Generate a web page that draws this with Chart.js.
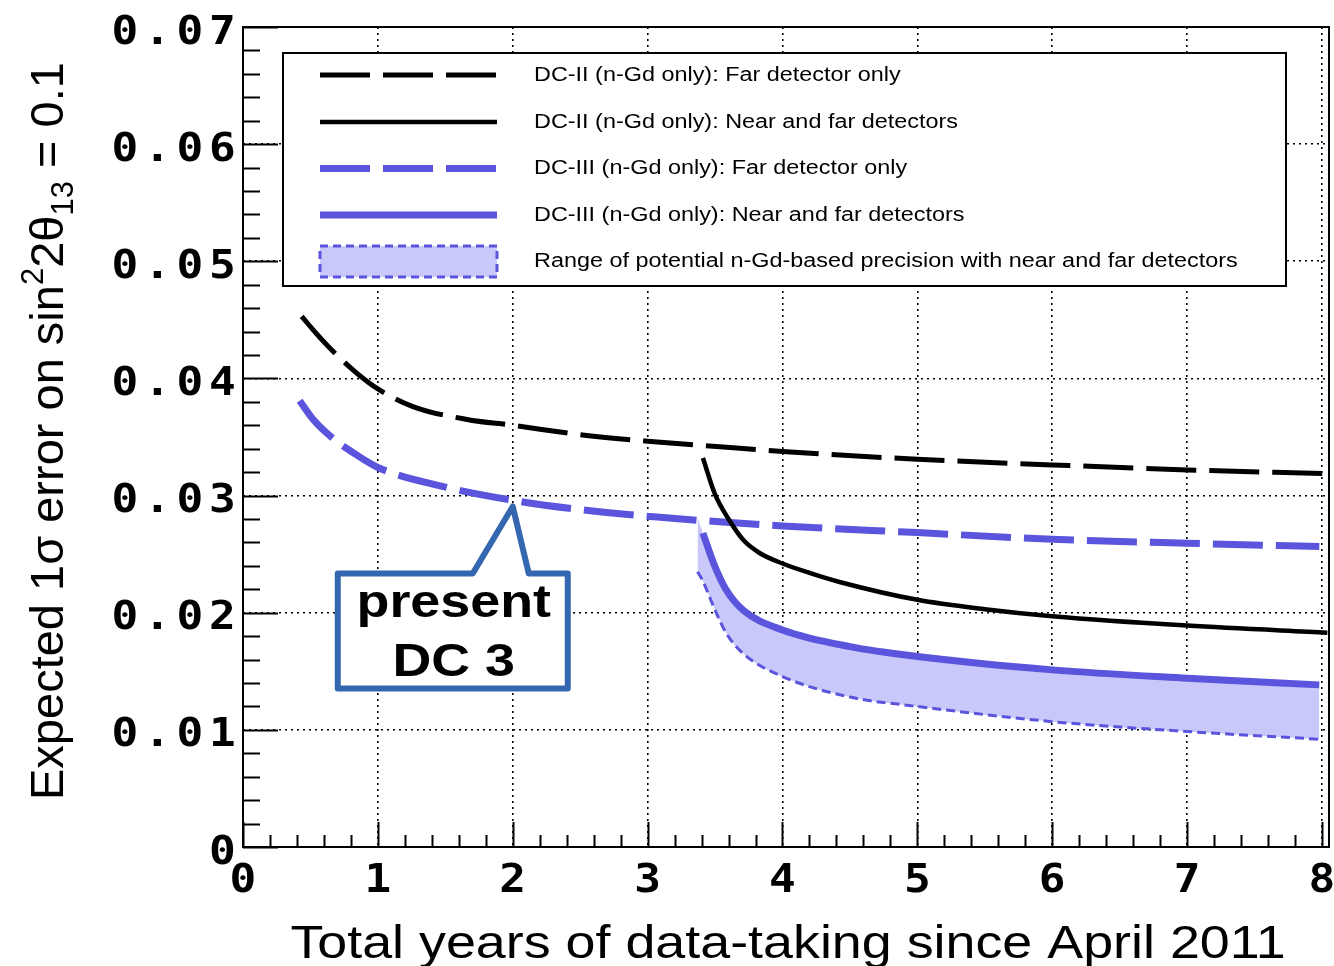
<!DOCTYPE html>
<html>
<head>
<meta charset="utf-8">
<script src="https://cdn.jsdelivr.net/npm/chart.js@4.4.1/dist/chart.umd.min.js"></script>
<style>
  html, body { margin: 0; padding: 0; background: #fff; }
  #wrap { width: 1334px; height: 966px; position: relative; }
</style>
</head>
<body>
<div id="wrap"><canvas id="c" width="1334" height="966"></canvas></div>
<script>
// Expected 1-sigma error on sin^2(2θ13) versus total years of data-taking

// DC-II (n-Gd only), far detector only
const dc2FarYears = [0.435, 0.546, 0.66, 0.843, 1.0, 1.26, 1.66, 2.0, 2.5, 3.0, 3.61, 4.0, 5.0, 6.0, 7.0, 8.04];
const dc2FarError = [0.0453, 0.0438, 0.0424, 0.04045, 0.0391, 0.0376, 0.0365, 0.0360, 0.0352, 0.03464, 0.0341, 0.03376, 0.0331, 0.03262, 0.03219, 0.03188];

// DC-II (n-Gd only), near and far detectors
const dc2NearFarYears = [3.41, 3.50, 3.60, 3.71, 3.83, 4.0, 4.2, 4.43, 5.0, 5.5, 6.0, 7.0, 8.04];
const dc2NearFarError = [0.0332, 0.0301, 0.0280, 0.0262, 0.0251, 0.0242, 0.0234, 0.0226, 0.0211, 0.0203, 0.0197, 0.0189, 0.0183];

// DC-III (n-Gd only), far detector only
const dc3FarYears = [0.42, 0.521, 0.645, 0.818, 1.0, 1.51, 2.0, 2.5, 3.0, 3.61, 4.0, 5.0, 6.0, 7.0, 7.98];
const dc3FarError = [0.0381, 0.0365, 0.0351, 0.03365, 0.0324, 0.0307, 0.0296, 0.0288, 0.02823, 0.0277, 0.02741, 0.02684, 0.02627, 0.02593, 0.02565];

// DC-III near+far curve (upper edge of the range) and the best potential precision (lower edge)
const rangeYears = [3.37, 3.41, 3.49, 3.58, 3.71, 4.0, 4.5, 5.0, 6.0, 7.0, 7.98];
const dc3NearFarError = [0.0281, 0.0268, 0.0242, 0.0220, 0.0202, 0.01853, 0.0171, 0.01626, 0.01512, 0.01441, 0.01384];
const rangeLowerError = [0.0235, 0.0227, 0.0205, 0.0183, 0.0165, 0.01455, 0.0128, 0.0120, 0.0107, 0.00986, 0.0092];

const xTickValues = [0, 1, 2, 3, 4, 5, 6, 7, 8];
const yTickValues = [0, 0.01, 0.02, 0.03, 0.04, 0.05, 0.06, 0.07];

const seriesLabels = [
  'DC-II (n-Gd only): Far detector only',
  'DC-II (n-Gd only): Near and far detectors',
  'DC-III (n-Gd only): Far detector only',
  'DC-III (n-Gd only): Near and far detectors',
  'Range of potential n-Gd-based precision with near and far detectors'
];

const xAxisTitle = 'Total years of data-taking since April 2011';
const calloutText = ['present', 'DC 3'];
const calloutPoint = [2.0, 0.0295];

const BLACK = '#000000';
const BLUE = '#5a55dc';
const RANGE_FILL = '#c8c8fa';
const CALLOUT_BLUE = '#3567b0';
const SANS = '"Liberation Sans", Arial, sans-serif';
const MONO = '"DejaVu Sans Mono", monospace';
const WIDE = 1.17;       // horizontal widening of the plain text
const CELL = 32.5;       // character pitch of the numeric tick labels

const pts = (xs, ys) => xs.map((x, i) => ({ x: x, y: ys[i] }));
const fmtX = v => String(Math.round(v));
const fmtY = v => (Math.abs(v) < 1e-12 ? '0' : v.toFixed(2));

function wideText(ctx, text, x, y, align) {
  ctx.save();
  ctx.translate(x, y);
  ctx.scale(WIDE, 1);
  ctx.textAlign = align;
  ctx.fillText(text, 0, 0);
  ctx.restore();
}

// monospaced label, one glyph per cell; cx0 is the centre of the first cell
function cellText(ctx, text, cx0, baseline) {
  for (let i = 0; i < text.length; i++) {
    ctx.save();
    ctx.translate(cx0 + i * CELL, baseline);
    ctx.scale(1.14, 1);
    ctx.textAlign = 'center';
    ctx.fillText(text[i], 0, 0);
    ctx.restore();
  }
}

// frame, inward tick marks, tick labels, axis titles, legend box and the callout
const decorations = {
  id: 'decorations',
  afterDraw(chart) {
    const ctx = chart.ctx;
    const a = chart.chartArea;
    const xs = chart.scales.x, ys = chart.scales.y;
    ctx.save();

    // frame
    ctx.strokeStyle = BLACK;
    ctx.lineWidth = 2;
    ctx.setLineDash([]);
    ctx.strokeRect(a.left, a.top, a.right - a.left, a.bottom - a.top);

    // tick marks pointing into the plot
    ctx.beginPath();
    for (let i = 0; i <= 40; i++) {
      const px = Math.round(xs.getPixelForValue(i * 0.2)) + 0.5;
      const len = (i % 5 === 0) ? 25 : 12;
      ctx.moveTo(px, a.bottom);
      ctx.lineTo(px, a.bottom - len);
    }
    for (let i = 0; i <= 35; i++) {
      const py = Math.round(ys.getPixelForValue(i * 0.002)) + 0.5;
      const len = (i % 5 === 0) ? 35 : 17;
      ctx.moveTo(a.left, py);
      ctx.lineTo(a.left + len, py);
    }
    ctx.lineWidth = 2;
    ctx.stroke();

    // tick labels at the scale's tick positions
    ctx.fillStyle = BLACK;
    ctx.font = 'bold 39px ' + MONO;
    ctx.textBaseline = 'alphabetic';
    xs.ticks.forEach(t => {
      const s = fmtX(t.value);
      const px = xs.getPixelForValue(t.value);
      cellText(ctx, s, px - (s.length - 1) * CELL / 2, a.bottom + 45);
    });
    ys.ticks.forEach(t => {
      const s = fmtY(t.value);
      const py = ys.getPixelForValue(t.value);
      cellText(ctx, s, a.left - 20.5 - (s.length - 1) * CELL, py + 16.5);
    });

    // x-axis title
    ctx.font = '46px ' + SANS;
    ctx.textBaseline = 'alphabetic';
    wideText(ctx, xAxisTitle, 788, 958, 'center');

    // y-axis title with super- and subscripts
    ctx.save();
    ctx.translate(63, 800);
    ctx.rotate(-Math.PI / 2);
    ctx.textAlign = 'left';
    let tx = 0;
    const seg = (t, font, dy) => {
      ctx.font = font;
      ctx.fillText(t, tx, dy);
      tx += ctx.measureText(t).width;
    };
    const big = '47px ' + SANS, small = '31px ' + SANS;
    seg('Expected 1\u03c3 error on sin', big, 0);
    seg('2', small, -20);
    seg('2\u03b8', big, 0);
    seg('13', small, 10);
    seg(' = 0.1', big, 0);
    ctx.restore();

    // legend
    const L = a.left + 40, T = a.top + 26, R = a.left + 1043, B = a.top + 259;
    ctx.fillStyle = '#ffffff';
    ctx.fillRect(L, T, R - L, B - T);
    ctx.strokeStyle = BLACK;
    ctx.lineWidth = 2;
    ctx.setLineDash([]);
    ctx.strokeRect(L, T, R - L, B - T);

    const sx0 = L + 37, sx1 = L + 214, textX = L + 251;
    const rowY = [T + 22, T + 69, T + 115.5, T + 162, T + 208];
    const sampleStyles = [
      { color: BLACK, width: 5, dash: [50, 13] },
      { color: BLACK, width: 4.5, dash: [] },
      { color: BLUE, width: 7, dash: [50, 13] },
      { color: BLUE, width: 7, dash: [] }
    ];
    sampleStyles.forEach((s, i) => {
      ctx.beginPath();
      ctx.strokeStyle = s.color;
      ctx.lineWidth = s.width;
      ctx.lineCap = 'butt';
      ctx.setLineDash(s.dash);
      ctx.moveTo(sx0, rowY[i]);
      ctx.lineTo(sx1, rowY[i]);
      ctx.stroke();
    });
    ctx.setLineDash([]);
    ctx.fillStyle = RANGE_FILL;
    ctx.fillRect(sx0, rowY[4] - 15, sx1 - sx0, 31);
    ctx.strokeStyle = BLUE;
    ctx.lineWidth = 3;
    ctx.setLineDash([8, 5]);
    ctx.strokeRect(sx0, rowY[4] - 15, sx1 - sx0, 31);
    ctx.setLineDash([]);

    ctx.fillStyle = BLACK;
    ctx.font = '20px ' + SANS;
    ctx.textBaseline = 'middle';
    seriesLabels.forEach((t, i) => wideText(ctx, t, textX, rowY[i], 'left'));

    // callout pointing at the present DC-III precision
    const px = xs.getPixelForValue(calloutPoint[0]);
    const py = ys.getPixelForValue(calloutPoint[1]);
    const tipY = py + 5;
    const bl = px - 175, br = px + 55, bt = py + 72, bb = py + 187;
    ctx.beginPath();
    ctx.moveTo(bl, bt);
    ctx.lineTo(px - 40, bt);
    ctx.lineTo(px, tipY);
    ctx.lineTo(px + 16, bt);
    ctx.lineTo(br, bt);
    ctx.lineTo(br, bb);
    ctx.lineTo(bl, bb);
    ctx.closePath();
    ctx.fillStyle = '#ffffff';
    ctx.fill();
    ctx.lineJoin = 'round';
    ctx.lineWidth = 6;
    ctx.strokeStyle = CALLOUT_BLUE;
    ctx.stroke();

    ctx.fillStyle = BLACK;
    ctx.font = 'bold 46px ' + SANS;
    ctx.textBaseline = 'alphabetic';
    wideText(ctx, calloutText[0], px - 59, py + 116, 'center');
    wideText(ctx, calloutText[1], px - 59, py + 175, 'center');

    ctx.restore();
  }
};

const ctx = document.getElementById('c').getContext('2d');
new Chart(ctx, {
  type: 'line',
  data: {
    datasets: [
      { label: seriesLabels[0], data: pts(dc2FarYears, dc2FarError),
        borderColor: BLACK, borderWidth: 5, borderDash: [50, 13], fill: false },
      { label: seriesLabels[1], data: pts(dc2NearFarYears, dc2NearFarError),
        borderColor: BLACK, borderWidth: 4.5, fill: false },
      { label: seriesLabels[2], data: pts(dc3FarYears, dc3FarError),
        borderColor: BLUE, borderWidth: 7, borderDash: [50, 13], fill: false },
      { label: seriesLabels[3], data: pts(rangeYears.slice(1), dc3NearFarError.slice(1)),
        borderColor: BLUE, borderWidth: 7, fill: false },
      { label: 'range upper edge', data: pts(rangeYears, dc3NearFarError),
        borderColor: 'rgba(0,0,0,0)', borderWidth: 0, fill: false },
      { label: seriesLabels[4], data: pts(rangeYears, rangeLowerError),
        borderColor: BLUE, borderWidth: 3, borderDash: [9, 5],
        backgroundColor: RANGE_FILL, fill: '-1' }
    ]
  },
  options: {
    responsive: false,
    animation: false,
    devicePixelRatio: 1,
    events: [],
    elements: {
      point: { radius: 0, hoverRadius: 0 },
      line: { cubicInterpolationMode: 'monotone', borderCapStyle: 'butt' }
    },
    layout: { padding: { top: 27, right: 5, left: 0, bottom: 0 } },
    plugins: { legend: { display: false }, tooltip: { enabled: false } },
    scales: {
      x: {
        type: 'linear', min: 0, max: 8.052,
        afterBuildTicks: s => { s.ticks = xTickValues.map(v => ({ value: v })); },
        afterFit: s => { s.height = 119; s.paddingLeft = 0; s.paddingRight = 0; },
        ticks: { display: false, callback: fmtX },
        grid: { color: BLACK, lineWidth: 1.6, drawTicks: false },
        border: { display: false, dash: [2, 4] }
      },
      y: {
        type: 'linear', min: 0, max: 0.07,
        afterBuildTicks: s => { s.ticks = yTickValues.map(v => ({ value: v })); },
        afterFit: s => { s.width = 243; s.paddingTop = 0; s.paddingBottom = 0; },
        ticks: { display: false, callback: fmtY },
        grid: { color: BLACK, lineWidth: 1.6, drawTicks: false },
        border: { display: false, dash: [2, 4] }
      }
    }
  },
  plugins: [decorations]
});
</script>
</body>
</html>
